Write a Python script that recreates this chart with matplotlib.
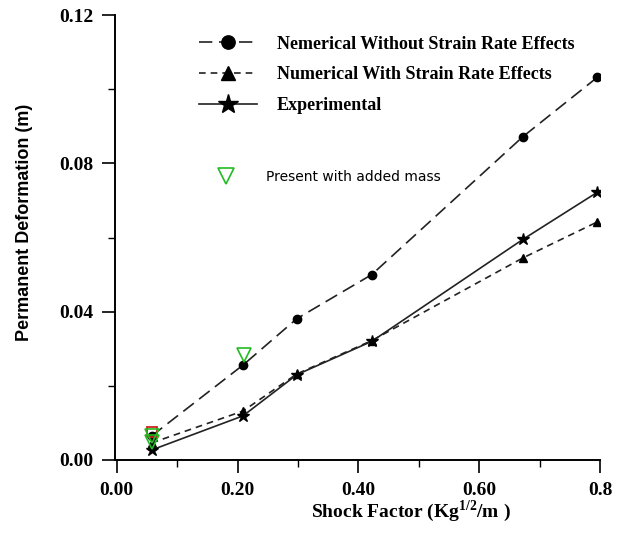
import numpy as np
import matplotlib
matplotlib.use('Agg')
import matplotlib.pyplot as plt
from matplotlib.lines import Line2D

# shock factor (Kg^1/2/m)
shock = [0.058, 0.209, 0.298, 0.422, 0.672, 0.795]
# permanent deformation (m)
no_rate = [0.0065, 0.0256, 0.0381, 0.0500, 0.0872, 0.1032]
with_rate = [0.0046, 0.0132, 0.0232, 0.0322, 0.0545, 0.0642]
experiment = [0.0027, 0.0119, 0.0230, 0.0320, 0.0595, 0.0722]
# present with added mass
added_x = [0.058, 0.058, 0.210]
added_y = [0.0065, 0.0048, 0.0284]
red_x = [0.058]
red_y = [0.0076]

SERIF = 'Liberation Serif'
SANS = 'Liberation Sans'
LINE = '#222222'

fig = plt.figure(figsize=(6.24, 5.38), dpi=100)
ax = fig.add_axes([0.184, 0.145, 0.778, 0.827])

ax.plot(shock, no_rate, color=LINE, lw=1.2, dashes=(8, 4), marker='o', ms=6,
        mfc='black', mec='black', label='Nemerical Without Strain Rate Effects')
ax.plot(shock, with_rate, color=LINE, lw=1.2, dashes=(4, 3), marker='^', ms=6,
        mfc='black', mec='black', label='Numerical With Strain Rate Effects')
ax.plot(shock, experiment, color=LINE, lw=1.2, ls='-', marker='*', ms=9,
        mfc='black', mec='black', label='Experimental')
ax.plot(red_x, red_y, ls='none', marker='s', ms=7, mfc='none', mec='#d02020', mew=1.3)
ax.plot(added_x, added_y, ls='none', marker='v', ms=10, mfc='none', mec='#22bb22', mew=1.2)

ax.set_xlim(-0.003, 0.8)
ax.set_ylim(0, 0.12)
ax.set_xticks([0.0, 0.2, 0.4, 0.6, 0.8])
ax.set_xticklabels(['0.00', '0.20', '0.40', '0.60', '0.8'])
ax.set_xticks([0.1, 0.3, 0.5, 0.7], minor=True)
ax.set_yticks([0.0, 0.04, 0.08, 0.12])
ax.set_yticklabels(['0.00', '0.04', '0.08', '0.12'])
ax.set_yticks([0.02, 0.06, 0.10], minor=True)
ax.spines['top'].set_visible(False)
ax.spines['right'].set_visible(False)
for s in ['left', 'bottom']:
    ax.spines[s].set_linewidth(1.4)
ax.tick_params(which='major', direction='out', length=9.5, width=1.2, pad=6)
ax.tick_params(which='minor', direction='out', length=5, width=1.0)
for lab in ax.get_xticklabels() + ax.get_yticklabels():
    lab.set_fontfamily(SERIF)
    lab.set_fontweight('bold')
    lab.set_fontsize(14)

ax.set_xlabel(r'Shock Factor (Kg$^{\mathregular{1/2}}$/m )', fontfamily=SERIF,
              fontweight='bold', fontsize=14)
ax.xaxis.set_label_coords(0.61, -0.085)
ax.set_ylabel('Permanent Deformation (m)', fontfamily=SANS, fontweight='bold', fontsize=13)
ax.yaxis.set_label_coords(-0.169, 0.535)

leg = ax.legend(loc='upper left', bbox_to_anchor=(0.14, 0.99), frameon=False,
                prop={'family': SERIF, 'weight': 'bold', 'size': 13},
                handlelength=3.2, handletextpad=1.1, labelspacing=0.75, markerscale=1.6)
ax.add_artist(leg)
h = Line2D([], [], ls='none', marker='v', ms=11, mfc='none', mec='#22bb22', mew=1.2)
ax.legend([h], ['Present with added mass'], loc='upper left', bbox_to_anchor=(0.175, 0.68),
          frameon=False, prop={'family': 'DejaVu Sans', 'size': 10}, handletextpad=1.9)

fig.savefig('out.png', dpi=100)
